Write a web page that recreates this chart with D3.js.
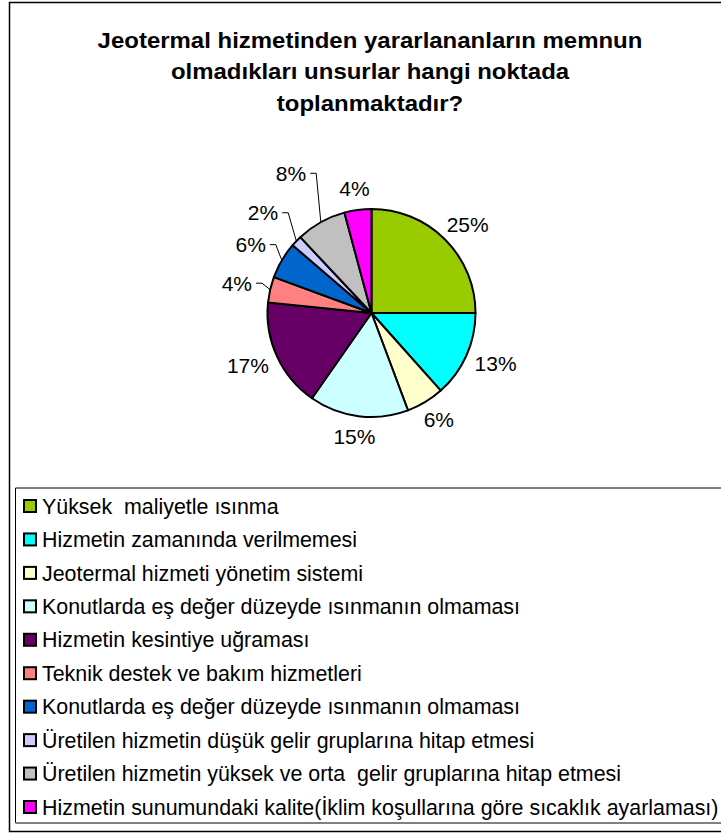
<!DOCTYPE html>
<html>
<head>
<meta charset="utf-8">
<script src="https://cdn.jsdelivr.net/npm/d3@7"></script>
<style>
  body { margin: 0; background: #fff; }
  svg text { white-space: pre; }
</style>
</head>
<body>
<div id="chart"></div>
<script>
const titleLines = [
  "Jeotermal hizmetinden yararlananların memnun",
  "olmadıkları unsurlar hangi noktada",
  "toplanmaktadır?"
];

const categories = [
  "Yüksek  maliyetle ısınma",
  "Hizmetin zamanında verilmemesi",
  "Jeotermal hizmeti yönetim sistemi",
  "Konutlarda eş değer düzeyde ısınmanın olmaması",
  "Hizmetin kesintiye uğraması",
  "Teknik destek ve bakım hizmetleri",
  "Konutlarda eş değer düzeyde ısınmanın olmaması",
  "Üretilen hizmetin düşük gelir gruplarına hitap etmesi",
  "Üretilen hizmetin yüksek ve orta  gelir gruplarına hitap etmesi",
  "Hizmetin sunumundaki kalite(İklim koşullarına göre sıcaklık ayarlaması)"
];

// share of answers (%)
const values = [25.0, 13.4, 5.9, 15.4, 16.9, 4.0, 5.7, 1.7, 7.8, 4.2];

const colors = ["#99CC00", "#00FFFF", "#FFFFCC", "#CCFFFF", "#660066",
                "#FF8080", "#0066CC", "#CCCCFF", "#C0C0C0", "#FF00FF"];

const width = 721;
const height = 834;

const svg = d3.select("#chart")
  .append("svg")
  .attr("width", width)
  .attr("height", height)
  .style("font-family", "'Liberation Sans', Arial, sans-serif");

// chart frame, its right side runs past the window
svg.append("rect")
  .attr("x", 9.5).attr("y", 2.5)
  .attr("width", 740).attr("height", 829)
  .attr("fill", "none")
  .attr("stroke", "#000")
  .attr("stroke-width", 1.5);

// title
const titleX = 370;
const titleScale = 1.09;
svg.append("g")
  .attr("transform", `translate(${titleX},0) scale(${titleScale},1)`)
  .selectAll("text")
  .data(titleLines)
  .join("text")
    .attr("x", 0)
    .attr("y", (d, i) => 48 + i * 31.5)
    .attr("text-anchor", "middle")
    .attr("font-size", 22)
    .attr("font-weight", "bold")
    .text(d => d);

// pie
const cx = 371.5, cy = 313, r = 104;
const total = d3.sum(values);

const pie = d3.pie().sort(null).value(d => d);
const arcs = pie(values);
const arc = d3.arc().innerRadius(0).outerRadius(r);

const g = svg.append("g").attr("transform", `translate(${cx},${cy})`);

g.selectAll("path.slice")
  .data(arcs)
  .join("path")
    .attr("class", "slice")
    .attr("d", arc)
    .attr("fill", (d, i) => colors[i])
    .attr("stroke", "#000")
    .attr("stroke-width", 2)
    .attr("stroke-linejoin", "round");

// labels on the crowded upper-left side were pulled outward by hand
const labelPush = [0, 0, 0, 0, 0, 8, 10, 20, 35, 0];
const labelGap = 11;
const labelHalfH = 10;

const labels = g.selectAll("g.lbl")
  .data(arcs)
  .join("g")
    .attr("class", "lbl");

labels.append("text")
  .attr("font-size", 21)
  .attr("text-anchor", "middle")
  .attr("dy", "0.35em")
  .text(d => Math.round(d.value / total * 100) + "%")
  .each(function (d, i) {
    const a = (d.startAngle + d.endAngle) / 2;
    const w = this.getComputedTextLength();
    const rr = r + labelGap + labelPush[i];
    const x = rr * Math.sin(a) + (w / 2) * Math.sin(a);
    const y = -rr * Math.cos(a) - labelHalfH * Math.cos(a);
    d3.select(this).attr("x", x).attr("y", y);
    if (labelPush[i] > 0) {
      const x0 = x + w / 2 + 4;
      const ex = r * Math.sin(a), ey = -r * Math.cos(a);
      g.append("path")
        .attr("d", `M${x0},${y}H${x0 + 6}L${ex},${ey}`)
        .attr("fill", "none")
        .attr("stroke", "#000")
        .attr("stroke-width", 1);
    }
  });

// legend
const legendTop = 488, legendLeft = 15.5, legendBottom = 823;
svg.append("path")
  .attr("d", `M${legendLeft},${legendBottom}V${legendTop}H${width + 10}`)
  .attr("fill", "none")
  .attr("stroke", "#000")
  .attr("stroke-width", 1);
svg.append("line")
  .attr("x1", legendLeft).attr("x2", width + 10)
  .attr("y1", legendBottom).attr("y2", legendBottom)
  .attr("stroke", "#808080")
  .attr("stroke-width", 2);

const rowY = d3.scalePoint()
  .domain(d3.range(categories.length))
  .range([506, 807]);

const items = svg.selectAll("g.item")
  .data(categories)
  .join("g")
    .attr("class", "item")
    .attr("transform", (d, i) => `translate(0,${rowY(i)})`);

items.append("rect")
  .attr("x", 24).attr("y", -6)
  .attr("width", 12).attr("height", 12)
  .attr("fill", (d, i) => colors[i])
  .attr("stroke", "#000")
  .attr("stroke-width", 2);

items.append("text")
  .attr("x", 42)
  .attr("dy", "0.36em")
  .attr("font-size", 21.4)
  .text(d => d);
</script>
</body>
</html>
